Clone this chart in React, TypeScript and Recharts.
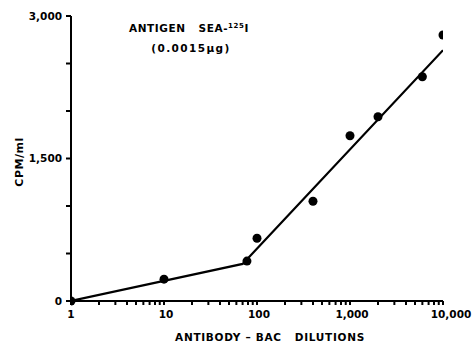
import React from 'react';
import { ScatterChart, Scatter, XAxis, YAxis, Customized } from 'recharts';

// Measured points: antibody-BAC dilution vs CPM/ml
const dilutions = [1, 10, 78, 100, 400, 1000, 2000, 6000, 10000];
const cpmValues = [0, 230, 420, 660, 1050, 1740, 1940, 2360, 2800];

// Hand-drawn fitted line (two straight segments)
const fitDilutions = [1, 70, 10000];
const fitCpm = [0, 390, 2640];

// Axis ticks
const xTicks = [
  1, 2, 3, 4, 5, 6, 7, 8, 9,
  10, 20, 30, 40, 50, 60, 70, 80, 90,
  100, 200, 300, 400, 500, 600, 700, 800, 900,
  1000, 2000, 3000, 4000, 5000, 6000, 7000, 8000, 9000,
  10000,
];
const xLabelTicks = [1, 10, 100, 1000, 10000];
const xTickLabels = ['1', '10', '100', '1,000', '10,000'];
const yTicks = [0, 500, 1000, 1500, 2000, 2500, 3000];
const yLabelTicks = [0, 1500, 3000];
const yTickLabels = ['0', '1,500', '3,000'];

const points = dilutions.map((x, i) => ({ x, y: cpmValues[i] }));
const fit = fitDilutions.map((x, i) => ({ x, y: fitCpm[i] }));

const FONT = '"DejaVu Sans", Arial, sans-serif';

const fmtY = (v: number) => {
  const i = yLabelTicks.indexOf(v);
  return i >= 0 ? yTickLabels[i] : '';
};

const XTick = (props: any) => {
  const { x, y, payload } = props;
  const i = xLabelTicks.indexOf(payload.value);
  if (i < 0) return <g />;
  const last = i === xLabelTicks.length - 1;
  const dx = i === 0 ? 0 : last ? 8 : 2;
  return (
    <text
      x={x + dx}
      y={y + 4}
      dy="0.71em"
      textAnchor="middle"
      fill="#000"
      fontSize={10.5}
      fontWeight="bold"
      fontFamily={FONT}
    >
      {xTickLabels[i]}
    </text>
  );
};

const Annotations = () => (
  <g fontFamily={FONT} fontWeight="bold" fill="#000">
    <text x={189} y={32} fontSize={10.5} textAnchor="middle" letterSpacing={0.6} xmlSpace="preserve">
      {'ANTIGEN   SEA-'}<tspan dy={-4.5} fontSize={7}>125</tspan>
      <tspan dy={4.5}>I</tspan>
    </text>
    <text x={191} y={52} fontSize={10.5} textAnchor="middle" letterSpacing={1.4}>
      (0.0015µg)
    </text>
    <text x={270} y={341} fontSize={10.5} textAnchor="middle" letterSpacing={0.7} xmlSpace="preserve">
      {'ANTIBODY – BAC   DILUTIONS'}
    </text>
    <text
      x={23}
      y={162}
      fontSize={11}
      textAnchor="middle"
      letterSpacing={0.5}
      transform="rotate(-90 23 162)"
    >
      CPM/ml
    </text>
  </g>
);

export default function App() {
  return (
    <div style={{ position: 'absolute', left: 0, top: 0, width: 476, height: 343, background: '#fff' }}>
      <ScatterChart
        width={476}
        height={343}
        margin={{ top: 16, right: 33, bottom: 0, left: 11 }}
      >
        <XAxis
          type="number"
          dataKey="x"
          scale="log"
          domain={[1, 10000]}
          allowDataOverflow
          ticks={xTicks}
          interval={0}
          height={42}
          stroke="#000"
          strokeWidth={2}
          tickSize={4}
          tick={<XTick />}
        />
        <YAxis
          type="number"
          dataKey="y"
          domain={[0, 3000]}
          ticks={yTicks}
          interval={0}
          tickFormatter={fmtY}
          width={60}
          stroke="#000"
          strokeWidth={2}
          tickSize={5}
          tickMargin={4}
          tick={{ fill: '#000', fontSize: 10.5, fontWeight: 'bold', fontFamily: FONT }}
        />
        <Scatter
          data={fit}
          line={{ stroke: '#000', strokeWidth: 2.2 }}
          shape={() => <g />}
          isAnimationActive={false}
        />
        <Scatter
          data={points}
          fill="#000"
          shape={(p: any) => <circle cx={p.cx} cy={p.cy} r={4.5} fill="#000" />}
          isAnimationActive={false}
        />
        <Customized component={Annotations} />
      </ScatterChart>
    </div>
  );
}
